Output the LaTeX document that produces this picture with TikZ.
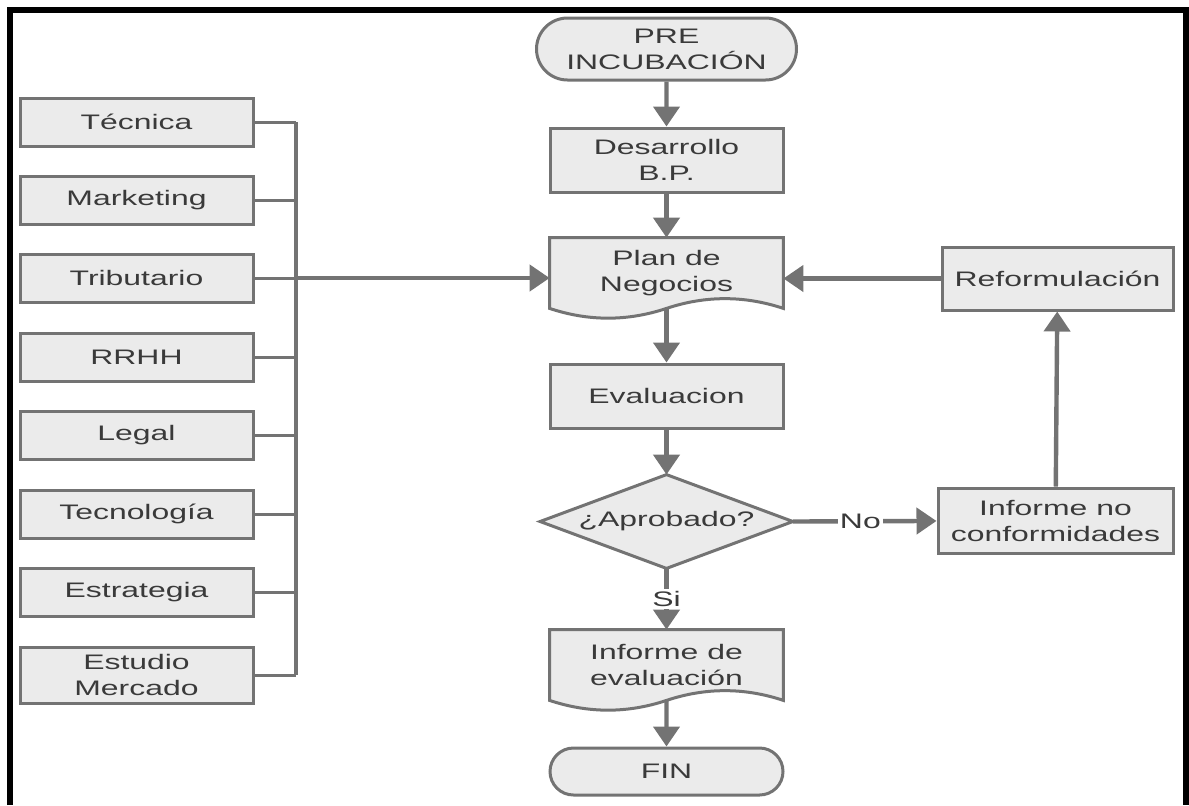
\documentclass[tikz,border=0pt]{standalone}
\usepackage{fontspec}
\setmainfont{Liberation Sans}[FakeStretch=1.52]
\usetikzlibrary{arrows.meta,shapes.misc,backgrounds}

\definecolor{edge}{HTML}{737373}
\definecolor{boxfill}{HTML}{EBEBEB}
\definecolor{ink}{HTML}{3A3A3A}

\begin{document}
\begin{tikzpicture}[x=0.5pt,y=-0.5pt,
  every node/.style={font=\fontsize{10.5}{13}\selectfont, text=ink, align=center, inner sep=2pt},
  box/.style={rectangle, draw=edge, fill=boxfill, line width=1.5pt},
  sidebox/.style={box, minimum width=116.5pt, minimum height=24pt},
  mainbox/.style={box, minimum width=116.5pt, minimum height=32pt},
  term/.style={rounded rectangle, draw=edge, fill=boxfill, line width=1.5pt, inner sep=0pt},
  doctext/.style={rectangle, minimum width=116.5pt, minimum height=35pt, inner sep=0pt},
  docshape/.style={draw=edge, fill=boxfill, line width=1.5pt, line join=miter},
  decision/.style={rectangle, minimum width=126pt, minimum height=46.5pt, inner sep=0pt},
  flow/.style={draw=edge, line width=2.2pt, -{Triangle[width=13pt,length=10pt]}},
  stub/.style={draw=edge, line width=1.5pt},
  busline/.style={draw=edge, line width=2.2pt},
  lbl/.style={fill=white, inner sep=1pt},
  frameline/.style={draw=black, line width=3pt, line join=miter}
]
\useasboundingbox (0,0) rectangle (1189,805);

% outer frame (left, top and right sides)
\draw[frameline] (9.5,805) -- (9.5,9.5) -- (1186,9.5) -- (1186,805);

% areas feeding the business plan
\node[sidebox] (tecnica)    at (136.5,122) {Técnica};
\node[sidebox] (marketing)  at (136.5,200) {Marketing};
\node[sidebox] (tributario) at (136.5,278) {Tributario};
\node[sidebox] (rrhh)       at (136.5,357) {RRHH};
\node[sidebox] (legal)      at (136.5,435) {Legal};
\node[sidebox] (tecnologia) at (136.5,514) {Tecnología};
\node[sidebox] (estrategia) at (136.5,592) {Estrategia};
\node[sidebox, minimum height=28pt] (estudio) at (136.5,675) {Estudio\\Mercado};
\coordinate (busx) at (296,0);

% main column
\node[term, minimum width=130pt, minimum height=31pt] (pre) at (666.5,49) {PRE\\INCUBACIÓN};
\node[mainbox] (dev) at (666.5,160) {Desarrollo\\B.P.};
\node[doctext] (plan) at (666.5,273) {Plan de\\Negocios};
\node[mainbox] (eval) at (666.5,396) {Evaluacion};
\node[decision] (dec) at (666.5,521.5) {¿Aprobado?};
\node[doctext] (infev) at (666.5,665) {Informe de\\evaluación};
\node[term, minimum width=116.5pt, minimum height=23.5pt] (fin) at (666.5,771.5) {FIN};

% right loop
\node[box, minimum width=117.5pt, minimum height=32.5pt] (infnc) at (1055.5,520.5) {Informe no\\conformidades};
\node[box, minimum width=115.5pt, minimum height=31.5pt] (reform) at (1057.5,278.5) {Reformulación};

% outlines drawn behind the texts: wavy documents and the decision diamond
\begin{scope}[on background layer]
  \foreach \d in {plan,infev}{
    \path[docshape] (\d.north west) -- (\d.north east) -- (\d.south east)
      .. controls +(-39,-13) and +(39,-13) .. (\d.south)
      .. controls +(-39,13) and +(39,13) .. (\d.south west) -- cycle;
  }
  \path[docshape] (dec.north) -- (dec.east) -- (dec.south) -- (dec.west) -- cycle;
\end{scope}

% collector bus on the left
\foreach \n in {tecnica,marketing,tributario,rrhh,legal,tecnologia,estrategia,estudio}
  \draw[stub] (\n.east) -- (\n.east -| busx);
\draw[busline] (tecnica.east -| busx) -- (estudio.east -| busx);
\draw[flow] (tributario.east -| busx) -- (tributario.east -| plan.west);

% main flow
\draw[flow] (pre) -- (dev);
\draw[flow] (dev) -- (plan);
\draw[flow] (plan.south) -- (eval);
\draw[flow] (eval) -- (dec.north);
\draw[flow] (dec.south) -- node[lbl] {Si} (infev);
\draw[flow] (infev.south) -- (fin);
\draw[flow] (dec.east) -- node[lbl, pos=0.47] {No} (infnc);
\draw[flow] (infnc) -- (reform);
\draw[flow] (reform.west) -- (reform.west -| plan.east);
\end{tikzpicture}
\end{document}
